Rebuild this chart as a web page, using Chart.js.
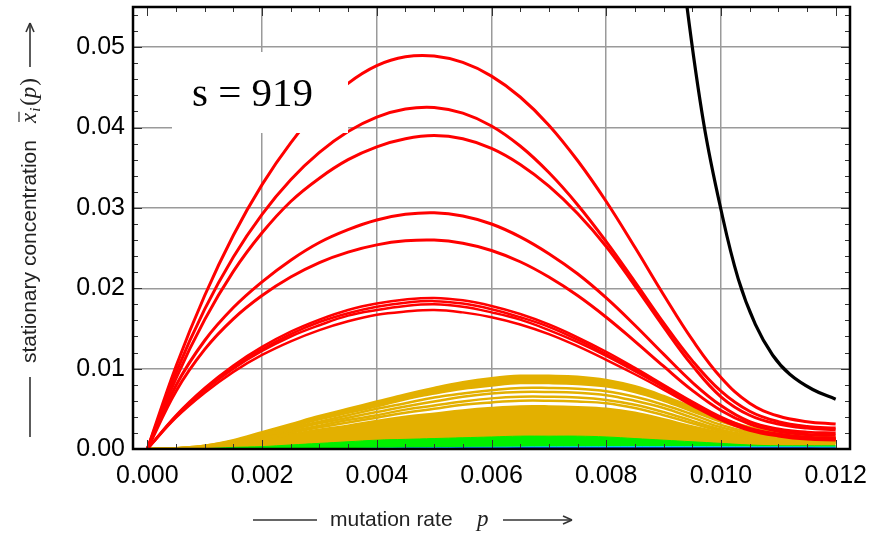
<!DOCTYPE html>
<html>
<head>
<meta charset="utf-8">
<script src="https://cdn.jsdelivr.net/npm/chart.js@4.4.1/dist/chart.umd.min.js"></script>
<style>
  html, body { margin: 0; padding: 0; background: #fff; }
</style>
</head>
<body>
<canvas id="plot" width="892" height="534"></canvas>
<script>
// mutation rate grid shared by all error-class curves
const rates = [0, 0.0005, 0.001, 0.0015, 0.002, 0.0025, 0.003, 0.0035, 0.004, 0.0045, 0.005, 0.0055,
  0.006, 0.0065, 0.007, 0.0075, 0.008, 0.0085, 0.009, 0.0095, 0.010, 0.0105, 0.011, 0.0115, 0.012];

// class 1 (red)
const red1 = [0, .0103, .0191, .0266, .0329, .0381, .0423, .0455, .0477, .0488, .0489, .0481, .0464, .0438, .0403, .0359, .0308, .0251, .0192, .0136, .0089, .0057, .0041, .0034, .0031];
const red2 = [0, .0095, .0174, .0239, .0292, .0335, .0369, .0395, .0413, .0423, .0425, .0418, .0402, .0377, .0344, .0304, .0258, .0208, .0157, .0110, .0072, .0047, .0034, .0028, .0026];
const red3 = [0, .0088, .0161, .0221, .0269, .0308, .0337, .0360, .0376, .0386, .0390, .0386, .0374, .0354, .0327, .0293, .0252, .0203, .0152, .0104, .0065, .0042, .0031, .0026, .0024];
const red4 = [0, .0079, .0135, .0176, .0208, .0235, .0257, .0273, .0285, .0292, .0294, .0290, .0280, .0264, .0243, .0218, .0188, .0154, .0118, .0083, .0054, .0034, .0025, .0021, .0020];
const red5 = [0, .0072, .0124, .0162, .0191, .0214, .0232, .0245, .0254, .0259, .0260, .0256, .0247, .0233, .0214, .0191, .0164, .0134, .0103, .0073, .0048, .0031, .0022, .0018, .0017];
const red6 = [0, .0042, .0076, .0104, .0127, .0146, .0161, .0173, .0181, .0186, .0188, .0185, .0178, .0168, .0155, .0139, .0121, .0101, .0080, .0059, .0040, .0026, .0019, .0015, .0014];
const red7 = [0, .0041, .0074, .0102, .0124, .0143, .0158, .0169, .0177, .0182, .0184, .0181, .0174, .0164, .0152, .0136, .0118, .0099, .0078, .0058, .0039, .0025, .0018, .0014, .0013];
const red8 = [0, .0040, .0073, .0100, .0122, .0140, .0154, .0166, .0173, .0178, .0180, .0177, .0170, .0161, .0148, .0133, .0116, .0097, .0077, .0056, .0038, .0024, .0017, .0013, .0012];
const red9 = [0, .0039, .0070, .0096, .0117, .0134, .0148, .0159, .0167, .0171, .0173, .0170, .0164, .0155, .0143, .0128, .0111, .0093, .0074, .0054, .0036, .0023, .0016, .0012, .0011];

// class 2 (gold)
const gold1 = [0, .0001, .0004, .0011, .0021, .0031, .0041, .0050, .0059, .0068, .0076, .0083, .0088, .0091, .0091, .0090, .0086, .0078, .0066, .0052, .0038, .0027, .0020, .0016, .0014];
const gold2 = [0, .0001, .0004, .0010, .0019, .0028, .0037, .0045, .0053, .0062, .0069, .0075, .0079, .0082, .0082, .0081, .0078, .0071, .0060, .0047, .0034, .0024, .0018, .0014, .0012];
const gold3 = [0, .0001, .0003, .0009, .0017, .0026, .0034, .0042, .0050, .0057, .0064, .0069, .0073, .0076, .0076, .0075, .0072, .0065, .0055, .0043, .0030, .0021, .0016, .0013, .0011];
const gold4 = [0, .0001, .0003, .0009, .0016, .0024, .0032, .0039, .0046, .0053, .0059, .0065, .0069, .0071, .0071, .0070, .0067, .0060, .0051, .0039, .0027, .0019, .0014, .0012, .0010];
const gold5 = [0, .0001, .0003, .0008, .0015, .0022, .0029, .0036, .0042, .0049, .0054, .0059, .0063, .0065, .0065, .0064, .0061, .0055, .0046, .0035, .0024, .0017, .0013, .0011, .0009];
const gold6 = [0, .0001, .0003, .0007, .0014, .0020, .0027, .0033, .0039, .0045, .0050, .0055, .0058, .0060, .0060, .0059, .0057, .0051, .0042, .0032, .0022, .0016, .0012, .0010, .0008];
const goldRest = [0, .0001, .0002, .0006, .0012, .0018, .0024, .0029, .0035, .0040, .0044, .0048, .0051, .0053, .0053, .0052, .0050, .0045, .0037, .0028, .0020, .0014, .0010, .0009, .0007];

// classes 3-5
const green = [0, 0, .00005, .0002, .0003, .0005, .0007, .0009, .0011, .0012, .0013, .0014, .0015, .0016, .0016, .0016, .0015, .0013, .0011, .0009, .0007, .0005, .0004, .0004, .0004];
const cyan = [0, 0, 0, 0, 0, 0, 0, .00005, .0001, .00013, .00016, .0002, .00022, .00025, .00027, .00028, .00029, .0003, .0003, .0003, .00029, .00028, .00027, .00026, .00025];
const blue = [0, 0, 0, 0, 0, 0, 0, 0, .00003, .00005, .00007, .00008, .0001, .00011, .00012, .00013, .00013, .00013, .00013, .00013, .00012, .00012, .00011, .00011, .0001];

// master sequence (black), only the tail near the threshold is on scale
const masterRates = [0.0090, 0.0094, 0.0097, 0.0100, 0.0103, 0.0106, 0.0109, 0.0112, 0.0116, 0.0120];
const master = [0.0800, 0.0555, 0.0405, 0.0298, 0.0212, 0.0155, 0.0117, 0.0093, 0.0074, 0.0062];

const xTicks = [0, 0.002, 0.004, 0.006, 0.008, 0.010, 0.012];
const yTicks = [0, 0.01, 0.02, 0.03, 0.04, 0.05];

const RED = '#ff0000', GOLD = '#e3b000', GREEN = '#00f000';

function pts(xs, ys) { return ys.map((y, i) => ({ x: xs[i], y: y })); }
function curve(ys, color, width, extra) {
  return Object.assign({ data: pts(rates, ys), borderColor: color, borderWidth: width,
    pointRadius: 0, tension: 0.4, fill: false }, extra || {});
}

// first dataset ends up on top
const datasets = [
  { data: pts(masterRates, master), borderColor: '#000', borderWidth: 3.2, pointRadius: 0,
    tension: 0.4, fill: false },
  curve(red1, RED, 3), curve(red2, RED, 3), curve(red3, RED, 3), curve(red4, RED, 3),
  curve(red5, RED, 3), curve(red6, RED, 2.5), curve(red7, RED, 2.5), curve(red8, RED, 2.5), curve(red9, RED, 2.5),
  curve(blue, '#1020d0', 1.5),
  curve(cyan, '#00d8f0', 1, { fill: 'origin', backgroundColor: '#00d8f0' }),
  curve(green, GREEN, 1, { fill: 'origin', backgroundColor: GREEN }),
  curve(gold1, GOLD, 2.5, { fill: '+1', backgroundColor: GOLD }),
  curve(gold2, GOLD, 2.5),
  curve(gold3, GOLD, 2.5), curve(gold4, GOLD, 2.5), curve(gold5, GOLD, 2.5), curve(gold6, GOLD, 2.5),
  curve(goldRest, GOLD, 2.5, { fill: 'origin', backgroundColor: GOLD })
];

function seg(ctx, x1, y1, x2, y2) {
  ctx.beginPath(); ctx.moveTo(x1, y1); ctx.lineTo(x2, y2); ctx.stroke();
}

const decor = {
  id: 'decor',
  afterDatasetsDraw(chart) {
    const ctx = chart.ctx, a = chart.chartArea;
    ctx.save();
    ctx.fillStyle = '#fff';
    ctx.fillRect(a.left + 39, a.top + 45, 176, 81);
    ctx.fillStyle = '#000';
    ctx.font = '41px "Liberation Serif", "Times New Roman", serif';
    ctx.fillText('s = 919', a.left + 59, a.top + 99);
    ctx.restore();
  },
  afterDraw(chart) {
    const ctx = chart.ctx, a = chart.chartArea;
    const xs = chart.scales.x, ys = chart.scales.y;
    ctx.save();
    // inward ticks on all four sides
    ctx.strokeStyle = '#333';
    ctx.lineWidth = 1;
    for (let k = 0; k <= 24; k++) {
      const px = Math.round(xs.getPixelForValue(k * 0.0005)) + 0.5;
      const len = k % 4 === 0 ? 9 : 5;
      seg(ctx, px, a.bottom, px, a.bottom - len);
      seg(ctx, px, a.top, px, a.top + len);
    }
    for (let k = 0; k <= 27; k++) {
      const py = Math.round(ys.getPixelForValue(k * 0.002)) + 0.5;
      const len = k % 5 === 0 ? 9 : 5;
      seg(ctx, a.left, py, a.left + len, py);
      seg(ctx, a.right, py, a.right - len, py);
    }
    // frame
    ctx.strokeStyle = '#000';
    ctx.lineWidth = 2.5;
    ctx.strokeRect(a.left, a.top, a.right - a.left, a.bottom - a.top);

    // axis titles with arrows
    ctx.strokeStyle = '#333';
    ctx.fillStyle = '#222';
    ctx.lineWidth = 1.6;
    const sans = '21px "Liberation Sans", Arial, sans-serif';
    const ital = 'italic 23px "Liberation Serif", "Times New Roman", serif';

    // x title
    const ty = 520;
    seg(ctx, 253, ty, 317, ty);
    ctx.font = sans;
    ctx.textBaseline = 'alphabetic';
    ctx.fillText('mutation rate', 330, ty + 6);
    ctx.font = ital;
    ctx.fillText('p', 477, ty + 6);
    seg(ctx, 503, ty, 572, ty);
    seg(ctx, 572, ty, 563, ty - 4);
    seg(ctx, 572, ty, 563, ty + 4);

    // y title, rotated
    ctx.translate(30, 0);
    ctx.rotate(-Math.PI / 2);
    seg(ctx, -437, 0, -377, 0);
    ctx.font = sans;
    ctx.fillText('stationary concentration', -363, 6);
    ctx.font = ital;
    let u = -123;
    ctx.fillText('x', u, 6);
    const xw = ctx.measureText('x').width;
    ctx.lineWidth = 1.2;
    seg(ctx, u + 1, -11, u + xw + 1, -11);
    ctx.font = 'italic 15px "Liberation Serif", "Times New Roman", serif';
    ctx.fillText('i', u + xw + 1, 10);
    u += xw + 7;
    ctx.font = '23px "Liberation Serif", "Times New Roman", serif';
    ctx.fillText('(', u, 6);
    u += ctx.measureText('(').width;
    ctx.font = ital;
    ctx.fillText('p', u, 6);
    u += ctx.measureText('p').width + 1;
    ctx.font = '23px "Liberation Serif", "Times New Roman", serif';
    ctx.fillText(')', u, 6);
    ctx.lineWidth = 1.6;
    seg(ctx, -67, 0, -23, 0);
    seg(ctx, -23, 0, -32, -4);
    seg(ctx, -23, 0, -32, 4);
    ctx.restore();
  }
};

const tickFont = { family: '"Liberation Sans", Arial, sans-serif', size: 25 };

new Chart(document.getElementById('plot'), {
  type: 'line',
  data: { datasets: datasets },
  plugins: [decor],
  options: {
    responsive: false,
    animation: false,
    devicePixelRatio: 1,
    layout: { padding: { left: 0, right: 42, top: 7, bottom: 0 } },
    plugins: { legend: { display: false }, tooltip: { enabled: false } },
    scales: {
      x: {
        type: 'linear', min: -0.00025, max: 0.01225,
        afterBuildTicks: s => { s.ticks = xTicks.map(v => ({ value: v })); },
        afterFit: s => { s.height = 85; s.paddingLeft = 0; s.paddingRight = 0; },
        border: { display: false },
        grid: {
          drawTicks: false, lineWidth: 1.5,
          color: c => (c.tick && c.tick.value > 0 && c.tick.value < 0.0115) ? '#9a9a9a' : 'rgba(0,0,0,0)'
        },
        ticks: { padding: 12, color: '#000', font: tickFont, maxRotation: 0, autoSkip: false,
          callback: v => v.toFixed(3) }
      },
      y: {
        type: 'linear', min: 0, max: 0.055,
        afterBuildTicks: s => { s.ticks = yTicks.map(v => ({ value: v })); },
        afterFit: s => { s.width = 133; s.paddingTop = 0; s.paddingBottom = 0; },
        border: { display: false },
        grid: {
          drawTicks: false, lineWidth: 1.5,
          color: c => (c.tick && c.tick.value > 0) ? '#9a9a9a' : 'rgba(0,0,0,0)'
        },
        ticks: { padding: 8, color: '#000', font: tickFont, autoSkip: false,
          callback: v => v.toFixed(2) }
      }
    }
  }
});
</script>
</body>
</html>
